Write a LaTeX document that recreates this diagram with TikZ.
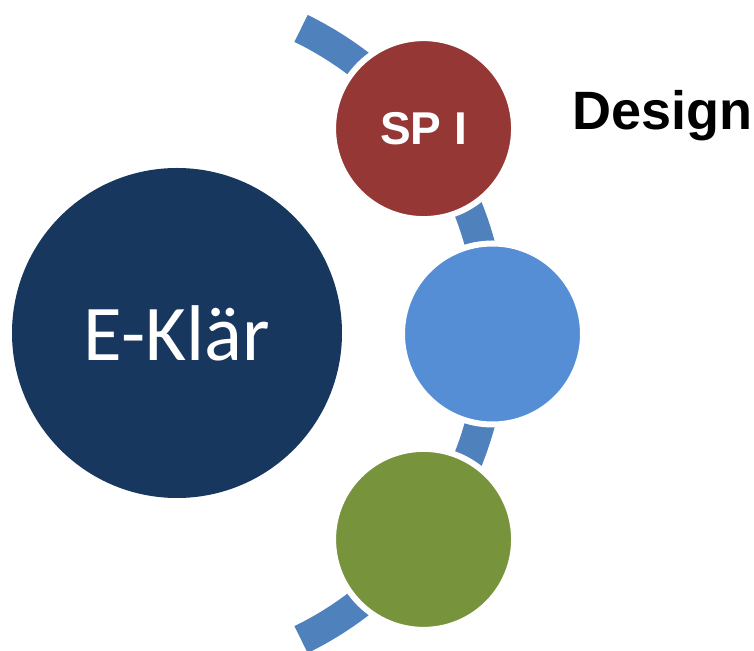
\documentclass[tikz,border=0pt]{standalone}
\usepackage{fontspec}
\usepackage{xcolor}
\usepackage{tikz}
\usetikzlibrary{shapes}
\usetikzlibrary{calc}

\newfontfamily\calibrifont{Carlito}
\newfontfamily\arialfont{Liberation Sans}

\definecolor{navy}{HTML}{17375E}
\definecolor{brickred}{HTML}{953735}
\definecolor{skyblue}{HTML}{558ED5}
\definecolor{olive}{HTML}{77933C}
\definecolor{bandblue}{HTML}{4F81BD}

\tikzset{
    stepcircle/.style = {circle, inner sep = 0pt, minimum size = 181pt,
        draw = white, line width = 6pt},
    band/.style = {draw = bandblue, line width = 30pt}
}

\begin{document}
\begin{tikzpicture}[x = 1pt, y = 1pt]
            \clip (0, 0) rectangle (754, 650);
            \coordinate (hub) at (152, 316);

            % the bent band behind the three small circles
            \draw[band] (hub) ++(64:340) arc[start angle = 64, end angle = -64, radius = 340];

            \node[circle, fill = navy, inner sep = 0pt, minimum size = 330pt,
                text = white, font = \calibrifont\fontsize{79}{90}\selectfont]
                (eklaer) at (177, 317) {E-Kl\"ar};

            \node[stepcircle, fill = brickred, text = white,
                font = \arialfont\bfseries\fontsize{46}{52}\selectfont]
                (spi) at ($(hub) + (37.1:340.5)$) {SP I};
            \node[stepcircle, fill = skyblue] (mid) at ($(hub) + (0:340.5)$) {};
            \node[stepcircle, fill = olive] (low) at ($(hub) + (-37.1:340.5)$) {};

            %\draw (spi) -- (low);
            \node[font = \arialfont\bfseries\fontsize{54}{60}\selectfont, anchor = west]
                (design) at (569, 534) {Design};
        \end{tikzpicture}
\end{document}
